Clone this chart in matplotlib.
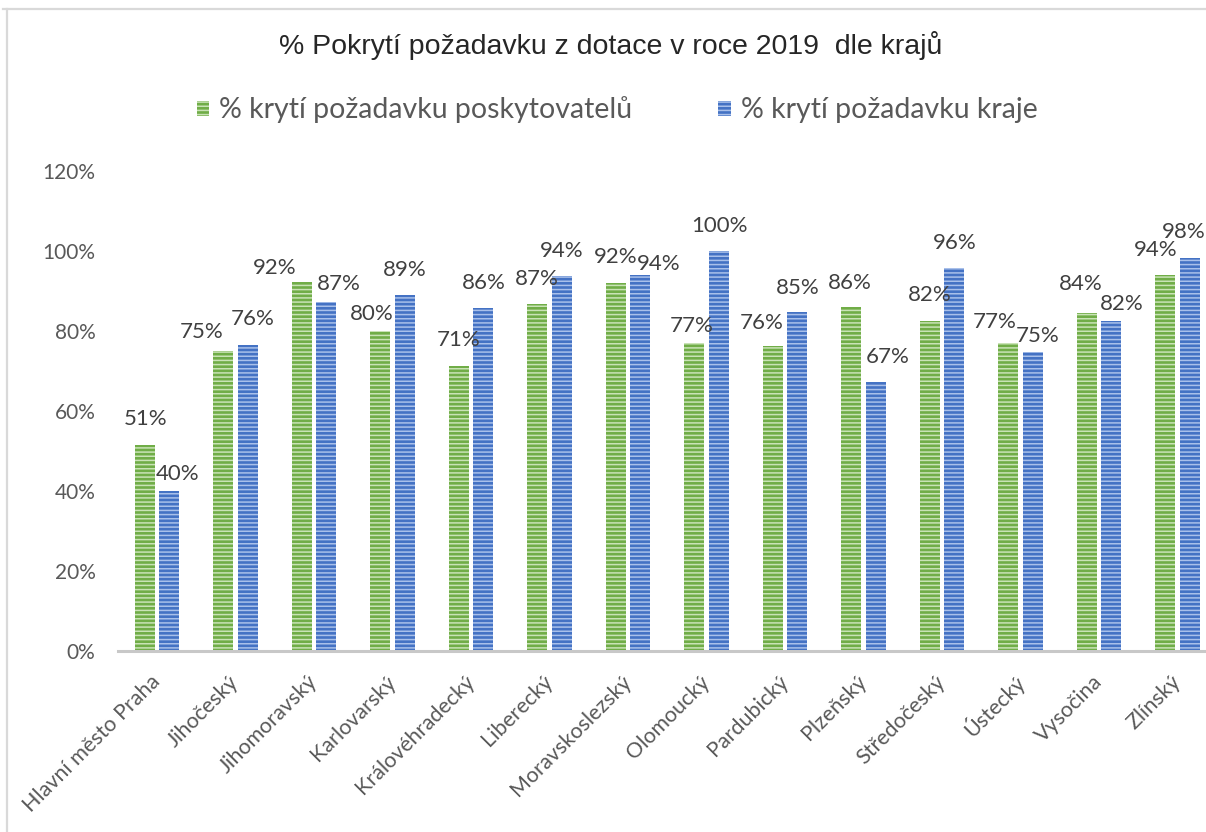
import matplotlib
matplotlib.use("Agg")
import matplotlib.pyplot as plt
import numpy as np
from matplotlib.patches import Patch
from matplotlib.lines import Line2D
from matplotlib.ticker import PercentFormatter

# data
kraje = ["Hlavní město Praha", "Jihočeský", "Jihomoravský", "Karlovarský",
         "Královéhradecký", "Liberecký", "Moravskoslezský", "Olomoucký",
         "Pardubický", "Plzeňský", "Středočeský", "Ústecký", "Vysočina", "Zlínský"]
kryti_poskytovatelu = [0.514, 0.751, 0.922, 0.800, 0.712, 0.868, 0.920,
                       0.770, 0.762, 0.860, 0.824, 0.770, 0.844, 0.940]
kryti_kraje = [0.400, 0.764, 0.873, 0.890, 0.858, 0.938, 0.940,
               1.000, 0.848, 0.672, 0.958, 0.748, 0.824, 0.982]
serie_nazvy = ["% krytí požadavku poskytovatelů", "% krytí požadavku kraje"]
titulek = "% Pokrytí požadavku z dotace v roce 2019  dle krajů"

# posun popisku od vrcholu sloupce (pixely), jak je rozmistil Excel
posun_zelena_x = [1, -21, -27, -8, 0, 0, 0, -2, -11, -1, 0, -13, -6, -9]
posun_zelena_y = [26, 19, 14, 17, 26, 25, 26, 17, 23, 24, 26, 21, 29, 25]
posun_modra_x = [8, 5, 12, 0, 0, 0, 18, 0, 0, 12, 0, 5, 10, -6]
posun_modra_y = [17, 26, 18, 25, 25, 25, 11, 25, 24, 25, 25, 16, 17, 26]

plt.rcParams['font.family'] = ['Lato', 'DejaVu Sans']
plt.rcParams['hatch.linewidth'] = 1.1

zelena, zelena_svetla = '#70AD47', '#C9E3B6'
modra, modra_svetla = '#4472C4', '#A9C0EA'
sede = '#595959'

W, H = 1206, 832
fig = plt.figure(figsize=(W / 100, H / 100), dpi=100)
ax = fig.add_axes([117.75 / W, (H - 651) / H, (W - 117.75) / W, (651 - 171) / H])

x = np.arange(len(kraje))
sirka = 0.255
posun = 0.159
ax.bar(x - posun, kryti_poskytovatelu, sirka, color=zelena, edgecolor=zelena_svetla,
       linewidth=0, hatch='----')
ax.bar(x + posun, kryti_kraje, sirka, color=modra, edgecolor=modra_svetla,
       linewidth=0, hatch='----')

for i in range(len(kraje)):
    ax.annotate(f"{kryti_poskytovatelu[i]:.0%}", (x[i] - posun, kryti_poskytovatelu[i]),
                xytext=(posun_zelena_x[i], posun_zelena_y[i]), textcoords='offset pixels',
                ha='center', va='center', fontsize=16, color='#404040')
    ax.annotate(f"{kryti_kraje[i]:.0%}", (x[i] + posun, kryti_kraje[i]),
                xytext=(posun_modra_x[i], posun_modra_y[i]), textcoords='offset pixels',
                ha='center', va='center', fontsize=16, color='#404040')

ax.set_xlim(-0.5, (W - 117.75) / 78.5 - 0.5)
ax.set_ylim(0, 1.2)
ax.set_yticks(np.arange(0, 1.21, 0.2))
ax.yaxis.set_major_formatter(PercentFormatter(1.0, decimals=0))
ax.set_xticks(x)
ax.set_xticklabels(kraje, rotation=45, ha='right', va='center', rotation_mode='anchor')
ax.tick_params(axis='y', length=0, labelsize=15, labelcolor=sede, pad=16)
ax.tick_params(axis='x', length=0, labelsize=15.5, labelcolor=sede, pad=20)
for s in ['top', 'right', 'left']:
    ax.spines[s].set_visible(False)
ax.spines['bottom'].set_color('#C8C8C8')
ax.spines['bottom'].set_linewidth(2.2)
ax.patch.set_alpha(0)

fig.text(611 / W, 1 - 46 / H, titulek, ha='center', va='center', fontsize=20.5,
         family=['Liberation Sans', 'DejaVu Sans'], color='#262626')

handles = [Patch(facecolor=zelena, edgecolor=zelena_svetla, linewidth=0, hatch='----'),
           Patch(facecolor=modra, edgecolor=modra_svetla, linewidth=0, hatch='----')]
fig.legend(handles, serie_nazvy, loc='center', bbox_to_anchor=(617 / W, 1 - 110 / H),
           ncol=2, frameon=False, fontsize=20.5, labelcolor=sede,
           handlelength=0.45, handleheight=0.45, handletextpad=0.35, columnspacing=3.0)

# ramecek grafu (oriznuty)
fig.add_artist(Line2D([3 / W, 1], [1 - 9 / H, 1 - 9 / H], color='#D9D9D9', lw=1.6))
fig.add_artist(Line2D([7 / W, 7 / W], [0, 1 - 9 / H], color='#D9D9D9', lw=1.6))

fig.savefig("out.png", dpi=100)
plt.close(fig)
